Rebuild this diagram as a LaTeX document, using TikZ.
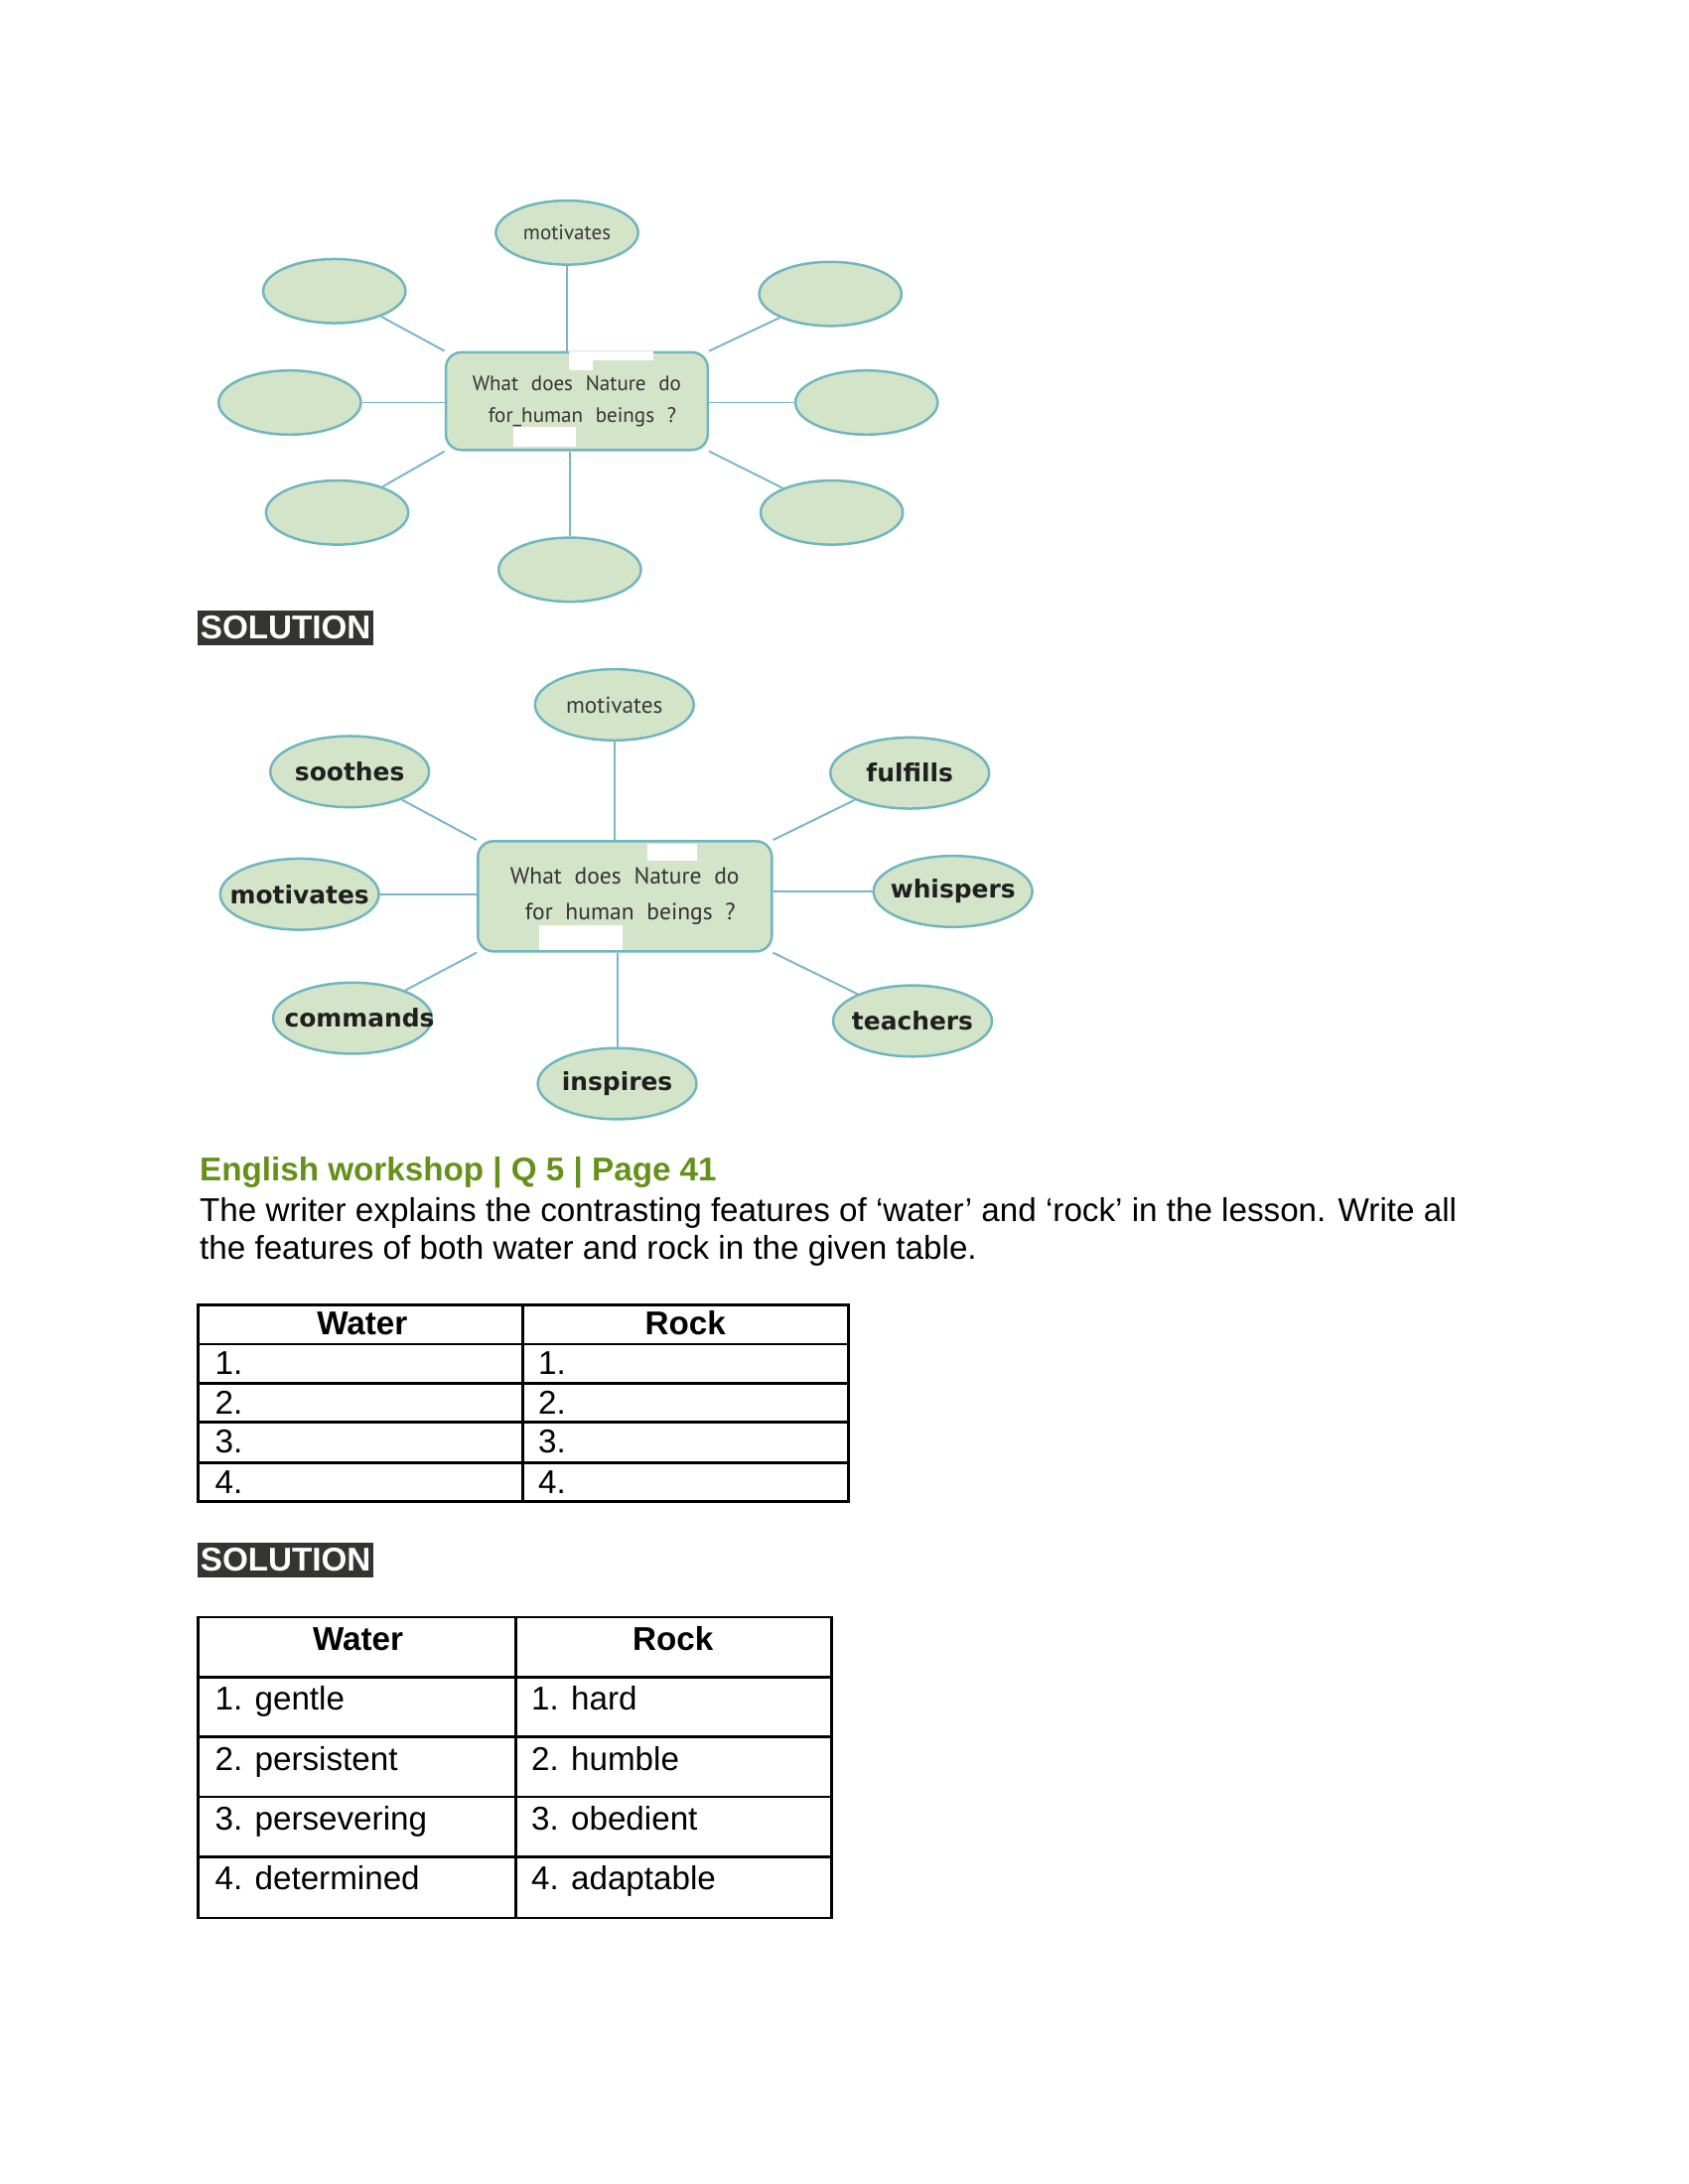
\documentclass[tikz,border=0pt]{standalone}
\usepackage{fontspec}
\setmainfont{Liberation Sans}
\newfontfamily\mapfont{PT Sans}
\newfontfamily\ansfont{DejaVu Sans}
\usepackage{xcolor}
\usetikzlibrary{positioning, shapes.geometric, calc}

\definecolor{sage}{RGB}{212,228,200}
\definecolor{rimteal}{RGB}{112,182,192}
\definecolor{linkblue}{RGB}{122,180,205}
\definecolor{headgreen}{RGB}{100,145,25}
\definecolor{tagbg}{RGB}{52,52,50}

\newcommand{\slim}[1]{\makebox[0pt]{#1}}
\newcommand{\gap}{\hspace{4.6pt}}

\begin{document}
\begin{tikzpicture}[
  x=0.17822mm, y=-0.17822mm,
  bubble/.style={ellipse, draw=rimteal, fill=sage, line width=0.9pt, inner sep=0pt, minimum width=18.2mm, minimum height=8.2mm, font=\mapfont\fontsize{7.6}{9}\selectfont, text=black!78},
  ansbubble/.style={bubble, minimum width=20.3mm, minimum height=9.1mm, font=\ansfont\bfseries\fontsize{9}{10}\selectfont, text=black!88},
  hub/.style={draw=rimteal, fill=sage, rounded corners=2mm, line width=0.9pt, align=center, inner sep=0pt, minimum width=33.5mm, minimum height=12.5mm, font=\mapfont\fontsize{7.6}{11.6}\selectfont, text=black!80},
  link/.style={draw=linkblue, line width=0.7pt},
  patch/.style={fill=white},
  tag/.style={fill=tagbg, text=white, font=\bfseries\fontsize{12}{13}\selectfont, inner sep=0pt, minimum width=22.46mm, minimum height=4.46mm},
  line/.style={anchor=base west, inner sep=0pt, font=\fontsize{12}{14}\selectfont},
  cell/.style={anchor=base west, inner sep=0pt, font=\fontsize{12}{14}\selectfont},
  headcell/.style={anchor=base, inner sep=0pt, font=\bfseries\fontsize{12}{14}\selectfont},
  tabline/.style={line width=1pt}
]
\path[use as bounding box] (0,0) rectangle (1212,1568);

% question map
\node[hub] (qhub) at (414,288) {What\gap does\gap Nature\gap do\\ \hspace{4pt}for\_human\gap beings\gap ?};
\node[bubble] (qtop) at (407,167) {\slim{motivates}};
\node[bubble] (qul) at (240,209) {};
\node[bubble] (ql) at (208,289) {};
\node[bubble] (qdl) at (242,368) {};
\node[bubble] (qbot) at (409,409) {};
\node[bubble] (qdr) at (597,368) {};
\node[bubble] (qr) at (622,289) {};
\node[bubble] (qur) at (596,211) {};
\draw[link] (qtop) -- (qtop |- qhub.north);
\draw[link] (qbot) -- (qbot |- qhub.south);
\draw[link] (ql) -- (ql -| qhub.west);
\draw[link] (qr) -- (qr -| qhub.east);
\draw[link] (qul) -- (qhub.north west);
\draw[link] (qur) -- (qhub.north east);
\draw[link] (qdl) -- (qhub.south west);
\draw[link] (qdr) -- (qhub.south east);
\fill[patch] (408.5,252) rectangle (469,259);
\fill[patch] (408.5,252) rectangle (425.6,266);
\fill[patch] (368.6,306.6) rectangle (413.5,321);

\node[tag] (tag1) at (205,450.5) {SOLUTION};

% answer map
\node[hub, minimum width=37.6mm, minimum height=14.1mm, font=\mapfont\fontsize{8.5}{13}\selectfont] (ahub) at (448.5,643.5) {What\gap does\gap Nature\gap do\\ \hspace{4pt}for\gap human\gap beings\gap ?};
\node[ansbubble, font=\mapfont\fontsize{8.4}{10}\selectfont, text=black!78] (atop) at (441,506) {\slim{motivates}};
\node[ansbubble] (soothes) at (251,554) {\slim{soothes}};
\node[ansbubble] (motiv) at (215,642) {\slim{motivates}};
\node[ansbubble] (commands) at (253,731) {\slim{\hspace{1.8mm}commands}};
\node[ansbubble] (inspires) at (443,778) {\slim{inspires}};
\node[ansbubble] (teachers) at (655,733) {\slim{teachers}};
\node[ansbubble] (whispers) at (684,640) {\slim{whispers}};
\node[ansbubble] (fulfills) at (653,555) {\slim{fulfills}};
\draw[link] (atop) -- (atop |- ahub.north);
\draw[link] (inspires) -- (inspires |- ahub.south);
\draw[link] (motiv) -- (motiv -| ahub.west);
\draw[link] (whispers) -- (whispers -| ahub.east);
\draw[link] (soothes) -- (ahub.north west);
\draw[link] (fulfills) -- (ahub.north east);
\draw[link] (commands) -- (ahub.south west);
\draw[link] (teachers) -- (ahub.south east);
\fill[patch] (465,606) rectangle (500.5,618);
\fill[patch] (387,664.5) rectangle (447,682);

% question 5
\node[line, font=\bfseries\fontsize{12}{14}\selectfont, text=headgreen] (qhead) at (143,848) {English workshop | Q 5 | Page 41};
\node[line] (qtext1) at (143,877) {The writer explains the contrasting features of ‘water’ and ‘rock’ in the lesson. Write all};
\node[line] (qtext2) at (143,904) {the features of both water and rock in the given table.};

% empty table
\draw[tabline] (142,937) rectangle (609,1078);
\draw[tabline] (375,937) -- (375,1078);
\draw[tabline] (142,965) -- (609,965);
\draw[tabline] (142,993) -- (609,993);
\draw[tabline] (142,1021) -- (609,1021);
\draw[tabline] (142,1050) -- (609,1050);
\node[headcell] (t1water) at (260,958) {Water};
\node[headcell] (t1rock) at (492,958) {Rock};
\node[cell] (t1w1) at (154,987) {1.};
\node[cell] (t1w2) at (154,1015) {2.};
\node[cell] (t1w3) at (154,1043) {3.};
\node[cell] (t1w4) at (154,1072) {4.};
\node[cell] (t1r1) at (386,987) {1.};
\node[cell] (t1r2) at (386,1015) {2.};
\node[cell] (t1r3) at (386,1043) {3.};
\node[cell] (t1r4) at (386,1072) {4.};

\node[tag] (tag2) at (205,1120) {SOLUTION};

% answer table
\draw[tabline] (142,1161) rectangle (597,1377);
\draw[tabline] (370,1161) -- (370,1377);
\draw[tabline] (142,1204) -- (597,1204);
\draw[tabline] (142,1247) -- (597,1247);
\draw[tabline] (142,1290) -- (597,1290);
\draw[tabline] (142,1333) -- (597,1333);
\node[headcell] (t2water) at (257,1185) {Water};
\node[headcell] (t2rock) at (483,1185) {Rock};
\node[cell] (t2w1) at (154,1228) {1. gentle};
\node[cell] (t2w2) at (154,1271) {2. persistent};
\node[cell] (t2w3) at (154,1314) {3. persevering};
\node[cell] (t2w4) at (154,1357) {4. determined};
\node[cell] (t2r1) at (381,1228) {1. hard};
\node[cell] (t2r2) at (381,1271) {2. humble};
\node[cell] (t2r3) at (381,1314) {3. obedient};
\node[cell] (t2r4) at (381,1357) {4. adaptable};
\end{tikzpicture}
\end{document}
